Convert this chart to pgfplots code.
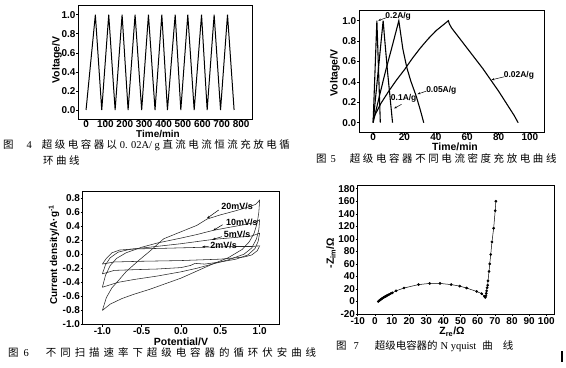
\documentclass[border=0pt]{standalone}
\usepackage{pgfplots}
\pgfplotsset{compat=1.18}
\usepackage{fontspec}
\setmainfont{Liberation Sans}
\newfontfamily\rmlat{Liberation Serif}
\newfontfamily\cjk{Noto Sans CJK SC}
\newfontfamily\cjkA[LetterSpace=24]{Noto Sans CJK SC}
\newfontfamily\cjkB[LetterSpace=25]{Noto Sans CJK SC}
\newfontfamily\cjkC[LetterSpace=38]{Noto Sans CJK SC}
\usetikzlibrary{arrows.meta}
\pgfplotsset{
  myax/.style={
    scale only axis, anchor=south west,
    axis line style={line width=0.9pt},
    tick align=outside, tick pos=left,
    major tick length=2bp,
    tick style={line width=0.6pt, black},
    tick label style={font=\fontsize{10}{10}\selectfont\bfseries},
    /pgf/number format/assume math mode=true,
    xticklabel style={inner sep=1pt},
    yticklabel style={inner sep=0.6pt},
  },
  dec1/.style={/pgf/number format/.cd, fixed, fixed zerofill, precision=1},
}
\newcommand{\lab}{\fontsize{10.5}{11}\selectfont\bfseries}
\newcommand{\ann}{\fontsize{8.5}{9}\selectfont\bfseries}
\newcommand{\annb}{\fontsize{9}{9}\selectfont\bfseries}
\newcommand{\capf}{\fontsize{10.5}{12}\selectfont}
\begin{document}
\begin{tikzpicture}
\path[use as bounding box, fill=white] (0bp,0bp) rectangle (566bp,-368bp);

% ---------- Fig 4 ----------
\begin{axis}[myax, at={(78.3bp,-119.5bp)}, width=174.4bp, height=114.3bp,
  xmin=-40, xmax=860, ymin=-0.1, ymax=1.1,
  xtick={0,100,200,300,400,500,600,700,800},
  ytick={0,0.2,0.4,0.6,0.8,1.0},
  xticklabel style={yshift=2bp},
  yticklabel style={dec1}]
\addplot[black, line width=1pt] coordinates {
(0,0) (48,1) (81,0) (117,1) (150,0) (186,1) (217,0) (253,1) (287,0)
(322,1) (356,0) (391,1) (420,0) (460,1) (489,0) (525,1) (558,0)
(596,1) (625,0) (661,1) (694,0) (730,1) (764,0)};
\end{axis}
\node[rotate=90, font=\lab] at (57bp,-60bp) {Voltage/V};
\node[font=\fontsize{10}{10}\selectfont\bfseries, inner sep=0pt] at (158bp,-133.5bp) {Time/min};

% ---------- Fig 5 ----------
\begin{axis}[myax, at={(359bp,-132.9bp)}, width=185bp, height=122.4bp,
  xmin=-9, xmax=109, ymin=-0.1, ymax=1.1,
  xtick={0,20,40,60,80,100},
  ytick={0,0.2,0.4,0.6,0.8,1.0},
  xticklabel style={yshift=2.5bp},
  yticklabel style={dec1}]
\addplot[black, line width=1.1pt] coordinates {
(0,0.04) (2,0.1) (5,0.19) (10,0.31) (15,0.42) (20,0.52) (25,0.63) (30,0.73)
(35,0.82) (40,0.9) (44,0.95) (48,1.0) (48.6,0.97) (50,0.93) (55,0.83)
(60,0.73) (65,0.63) (70,0.53) (75,0.42) (80,0.31) (85,0.19) (90,0.07) (92.5,0)};
\addplot[black, line width=1.1pt] coordinates {
(0,0) (4,0.26) (8,0.51) (12,0.74) (16.4,1.0) (17.5,0.88) (19,0.72)
(21.5,0.54) (24,0.41) (27.5,0.26) (30,0.13) (32.3,0)};
\addplot[black, line width=1.1pt] coordinates {
(0,0) (3,0.47) (6.4,1.0) (7.2,0.85) (9.2,0.5) (12.4,0)};
\addplot[black, line width=1.1pt] coordinates {
(0,0) (2.4,1.0) (4.6,0)};
\node[font=\ann] at (axis cs:16,1.046) {0.2A/g};
\draw[-{Stealth[length=3pt]}, line width=0.5pt] (axis cs:8.5,1.03) -- (axis cs:3.2,1.0);
\node[font=\ann] at (axis cs:19.5,0.235) {0.1A/g};
\draw[-{Stealth[length=3pt]}, line width=0.5pt] (axis cs:18.1,0.18) -- (axis cs:13.4,0.14);
\node[font=\ann] at (axis cs:43.5,0.32) {0.05A/g};
\draw[-{Stealth[length=3pt]}, line width=0.5pt] (axis cs:34,0.31) -- (axis cs:28.3,0.28);
\node[font=\ann] at (axis cs:93,0.46) {0.02A/g};
\draw[-{Stealth[length=3pt]}, line width=0.5pt] (axis cs:83.6,0.45) -- (axis cs:75.5,0.42);
\end{axis}
\node[rotate=90, font=\lab] at (335bp,-73bp) {Voltage/V};
\node[font=\lab] at (455bp,-147bp) {Time/min};

% ---------- Fig 6 ----------
\begin{axis}[myax, at={(82.7bp,-324.5bp)}, width=196.6bp, height=133.5bp,
  xmin=-1.25, xmax=1.25, ymin=-1, ymax=0.9,
  xtick={-1,-0.5,0,0.5,1},
  ytick={-1,-0.8,-0.6,-0.4,-0.2,0,0.2,0.4,0.6,0.8},
  xticklabel style={dec1}, yticklabel style={dec1}]
\addplot[black!85, line width=0.55pt] coordinates {
(-1.0,-0.80) (-0.95,-0.62) (-0.88,-0.48) (-0.8,-0.38) (-0.7,-0.25) (-0.55,-0.1)
(-0.4,0.04) (-0.22,0.22) (0,0.32) (0.2,0.41) (0.33,0.5) (0.5,0.56) (0.7,0.62)
(0.85,0.67) (0.95,0.71) (1.0,0.77) (0.99,0.6) (0.97,0.45) (0.93,0.3) (0.87,0.18)
(0.78,0.07) (0.6,-0.05) (0.4,-0.14) (0.2,-0.24) (0,-0.34) (-0.2,-0.42) (-0.4,-0.5)
(-0.6,-0.57) (-0.75,-0.63) (-0.9,-0.71) (-1.0,-0.80)};
\addplot[black!85, line width=0.55pt] coordinates {
(-1.0,-0.47) (-0.96,-0.3) (-0.9,-0.16) (-0.82,-0.06) (-0.7,0.02) (-0.5,0.1)
(-0.3,0.16) (0,0.23) (0.2,0.28) (0.41,0.34) (0.6,0.38) (0.8,0.42) (0.93,0.45)
(1.0,0.49) (0.99,0.35) (0.96,0.22) (0.9,0.09) (0.8,0.0) (0.6,-0.08) (0.4,-0.14)
(0.2,-0.2) (0,-0.25) (-0.3,-0.31) (-0.6,-0.36) (-0.8,-0.4) (-1.0,-0.47)};
\addplot[black!85, line width=0.55pt] coordinates {
(-1.0,-0.28) (-0.96,-0.15) (-0.9,-0.05) (-0.8,0.03) (-0.65,0.07) (-0.4,0.1)
(0,0.15) (0.4,0.21) (0.7,0.24) (0.9,0.26) (1.0,0.30) (0.98,0.18) (0.94,0.08)
(0.85,-0.01) (0.7,-0.07) (0.5,-0.11) (0.3,-0.14) (0.18,-0.13) (0.12,-0.16)
(0,-0.19) (-0.3,-0.21) (-0.6,-0.22) (-0.85,-0.23) (-1.0,-0.28)};
\addplot[black!85, line width=0.55pt] coordinates {
(-1.0,-0.14) (-0.95,-0.06) (-0.88,0.02) (-0.78,0.06) (-0.6,0.075) (-0.2,0.085)
(0.3,0.1) (0.7,0.11) (0.9,0.11) (1.0,0.12) (0.97,0.05) (0.9,-0.01) (0.8,-0.04)
(0.5,-0.07) (0,-0.09) (-0.5,-0.1) (-0.85,-0.11) (-1.0,-0.14)};
\node[font=\annb, anchor=west] at (axis cs:0.47,0.68) {20mV/s};
\draw[-{Stealth[length=3pt]}, line width=0.5pt] (axis cs:0.48,0.63) -- (axis cs:0.33,0.51);
\node[font=\annb, anchor=west] at (axis cs:0.53,0.46) {10mV/s};
\draw[-{Stealth[length=3pt]}, line width=0.5pt] (axis cs:0.53,0.42) -- (axis cs:0.41,0.34);
\node[font=\annb, anchor=west] at (axis cs:0.5,0.28) {5mV/s};
\draw[-{Stealth[length=3pt]}, line width=0.5pt] (axis cs:0.52,0.25) -- (axis cs:0.40,0.21);
\node[font=\annb, anchor=west] at (axis cs:0.33,0.13) {2mV/s};
\draw[-{Stealth[length=3pt]}, line width=0.5pt] (axis cs:0.35,0.11) -- (axis cs:0.27,0.105);
\end{axis}
\node[rotate=90, font=\fontsize{10}{11}\selectfont\bfseries] at (54bp,-255bp) {Current density/A·g\textsuperscript{-1}};
\node[font=\lab] at (181bp,-342.3bp) {Potential/V};

% ---------- Fig 7 ----------
\begin{axis}[myax, at={(357.7bp,-314bp)}, width=196.3bp, height=129bp,
  xmin=-10, xmax=104.5, ymin=-20, ymax=186,
  xtick={-10,0,10,20,30,40,50,60,70,80,90,100},
  ytick={-20,0,20,40,60,80,100,120,140,160,180}]
\addplot[black, line width=0.5pt, mark=*, mark size=1.1pt] coordinates {
(2,0) (2.6,1.5) (3.2,2.8) (3.8,4) (4.4,5.1) (5,6.2) (5.6,7.2) (6.2,8.1)
(6.8,9) (7.5,10) (8.3,11.2) (9.2,12.5) (10.2,13.8) (12.4,17) (17,21.5)
(25.5,27) (32,28.8) (38,28.8) (44.5,27) (49.5,24.5) (53.5,21.5) (59.4,16)
(62.3,12.5) (64,8) (64.4,6.5) (64.8,9) (65,13) (65.2,17) (65.5,22) (65.8,26)
(66,33) (66.6,48) (67,60) (67.6,75) (68.3,95) (69.3,117) (70.2,145) (70.6,160)};
\end{axis}
\node[rotate=90, font=\lab] at (331bp,-253bp) {-Z\textsubscript{im}/Ω};
\node[font=\lab] at (452bp,-332bp) {Z\textsubscript{re}/Ω};

% ---------- captions ----------
\node[anchor=west, font=\capf, inner sep=0pt] at (3bp,-145bp)
  {\cjk 图\hspace{13bp}{\rmlat 4}\hspace{10bp}\cjkA 超级电容器以{\rmlat\ 0. 02A/ g }直流电流恒流充放电循};
\node[anchor=west, font=\capf, inner sep=0pt] at (43bp,-161bp) {\cjkA 环曲线};
\node[anchor=west, font=\capf, inner sep=0pt] at (316bp,-158bp)
  {\cjk 图\hspace{4bp}{\rmlat 5}\hspace{14bp}\cjkB 超级电容器不同电流密度充放电曲线};
\node[anchor=west, font=\capf, inner sep=0pt] at (8bp,-353bp)
  {\cjk 图\hspace{5bp}{\rmlat 6}\hspace{17bp}\cjkC 不同扫描速率下超级电容器的循环伏安曲线};
\node[anchor=west, font=\capf, inner sep=0pt] at (336bp,-346bp)
  {\cjk 图\hspace{7bp}{\rmlat 7}\hspace{16bp}超级电容器的\hspace{3bp}{\rmlat N yquist}\hspace{6bp}曲\hspace{10bp}线};
\fill[black] (561bp,-351bp) rectangle (562.6bp,-362bp);
\end{tikzpicture}
\end{document}
